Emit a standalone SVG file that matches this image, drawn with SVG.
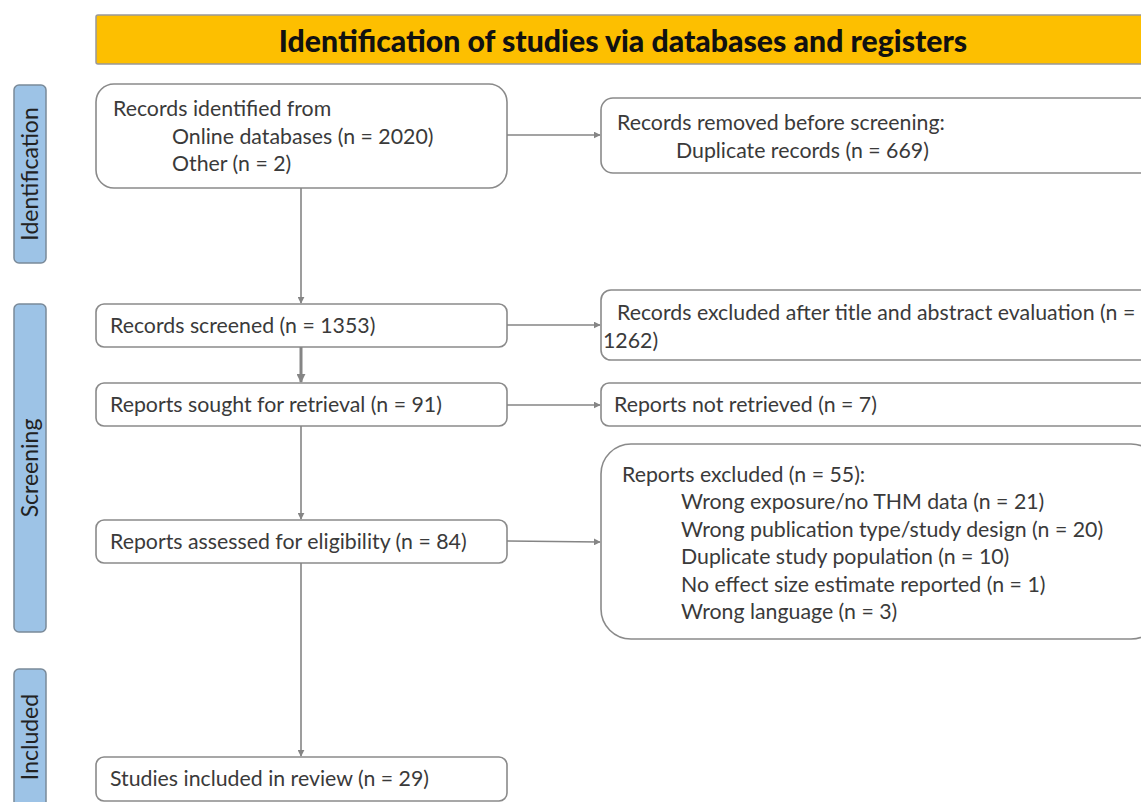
<svg xmlns="http://www.w3.org/2000/svg" width="1141" height="802" viewBox="0 0 1141 802">
<style>
text{font-family:Lato,"Open Sans","Liberation Sans",sans-serif;fill:#3a3a3a;font-size:21.3px}
.box{fill:#fff;stroke:#8a8a8a;stroke-width:1.6}
.side{fill:#9dc3e6;stroke:#7a8a99;stroke-width:1.5}
.side-t{font-size:23px;text-anchor:middle;fill:#222}
.con{stroke:#858585;stroke-width:1.6;fill:none;marker-end:url(#ah)}
</style>
<defs>
<marker id="ah" viewBox="0 0 10 10" refX="9" refY="5" markerWidth="7" markerHeight="7" markerUnits="userSpaceOnUse" orient="auto"><path d="M0,0 L10,5 L0,10 z" fill="#858585"/></marker>
<marker id="ah2" viewBox="0 0 10 10" refX="9" refY="5" markerWidth="9" markerHeight="9" markerUnits="userSpaceOnUse" orient="auto"><path d="M0,0 L10,5 L0,10 z" fill="#858585"/></marker>
</defs>
<rect width="1141" height="802" fill="#fff"/>
<g id="header">
<rect x="96" y="15" width="1060" height="49" rx="2" fill="#fdbf00" stroke="#999" stroke-width="1.5"/>
<text x="623" y="52" text-anchor="middle" style="font-weight:900;font-size:30.2px;fill:#111">Identification of studies via databases and registers</text>
</g>
<g id="lane-identification">
<rect class="side" x="14" y="85" width="32" height="178" rx="5"/>
<text class="side-t" transform="translate(38,174) rotate(-90)">Identification</text>
</g>
<g id="lane-screening">
<rect class="side" x="14" y="304" width="32" height="328" rx="5"/>
<text class="side-t" transform="translate(38,468) rotate(-90)">Screening</text>
</g>
<g id="lane-included">
<rect class="side" x="14" y="669" width="32" height="150" rx="5"/>
<text class="side-t" transform="translate(38,737) rotate(-90)">Included</text>
</g>
<g id="n-identified">
<rect class="box" x="96" y="84" width="411" height="104" rx="18"/>
<text x="113" y="116">Records identified from</text>
<text x="172" y="144">Online databases (n = 2020)</text>
<text x="172" y="171">Other (n = 2)</text>
</g>
<g id="n-removed">
<rect class="box" x="601" y="98" width="560" height="75" rx="12"/>
<text x="617" y="130">Records removed before screening:</text>
<text x="676" y="158">Duplicate records (n = 669)</text>
</g>
<g id="n-screened">
<rect class="box" x="96" y="304" width="411" height="43" rx="8"/>
<text x="110" y="333">Records screened (n = 1353)</text>
</g>
<g id="n-excluded-ta">
<rect class="box" x="601" y="290" width="560" height="70" rx="10"/>
<text x="617" y="320">Records excluded after title and abstract evaluation (n =</text>
<text x="603" y="348">1262)</text>
</g>
<g id="n-sought">
<rect class="box" x="96" y="383" width="411" height="43" rx="8"/>
<text x="110" y="412">Reports sought for retrieval (n = 91)</text>
</g>
<g id="n-not-retrieved">
<rect class="box" x="601" y="383" width="560" height="43" rx="8"/>
<text x="614" y="412">Reports not retrieved (n = 7)</text>
</g>
<g id="n-assessed">
<rect class="box" x="96" y="520" width="411" height="43" rx="8"/>
<text x="110" y="549">Reports assessed for eligibility (n = 84)</text>
</g>
<g id="n-excluded-reports">
<rect class="box" x="601" y="444" width="560" height="195" rx="30"/>
<text x="622" y="482">Reports excluded (n = 55):</text>
<text x="681" y="509">Wrong exposure/no THM data (n = 21)</text>
<text x="681" y="537">Wrong publication type/study design (n = 20)</text>
<text x="681" y="564">Duplicate study population (n = 10)</text>
<text x="681" y="592">No effect size estimate reported (n = 1)</text>
<text x="681" y="619">Wrong language (n = 3)</text>
</g>
<g id="n-included">
<rect class="box" x="96" y="757" width="411" height="44" rx="8"/>
<text x="110" y="786">Studies included in review (n = 29)</text>
</g>
<g id="connectors">
<line class="con" x1="507" y1="135" x2="600" y2="135"/>
<line class="con" x1="301" y1="188" x2="301" y2="303"/>
<line class="con" x1="507" y1="325" x2="600" y2="325"/>
<line class="con" x1="301" y1="347" x2="301" y2="382" style="stroke-width:3;marker-end:url(#ah2)"/>
<line class="con" x1="507" y1="405" x2="600" y2="405"/>
<line class="con" x1="301" y1="426" x2="301" y2="519"/>
<line class="con" x1="507" y1="541" x2="600" y2="542"/>
<line class="con" x1="301" y1="563" x2="301" y2="756"/>
</g>
</svg>
